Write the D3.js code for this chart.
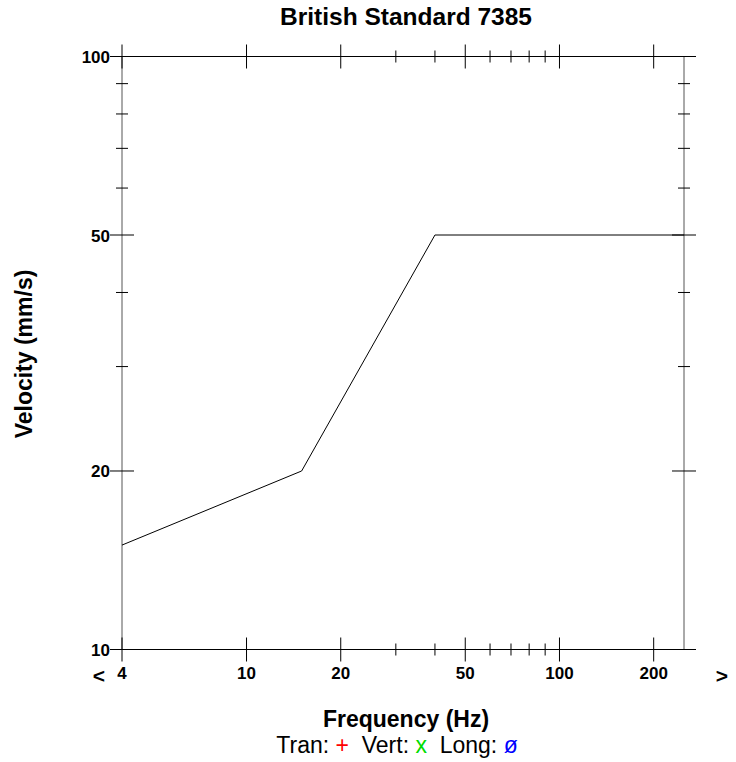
<!DOCTYPE html>
<html>
<head>
<meta charset="utf-8">
<script src="https://cdn.jsdelivr.net/npm/d3@7"></script>
<style>
  body { margin: 0; background: #fff; }
  svg text { font-family: "Liberation Sans", Arial, sans-serif; }
</style>
</head>
<body>
<svg id="chart" width="736" height="762"></svg>
<script>
// values
const xMajor = [4, 10, 20, 50, 100, 200];
const xMinor = [30, 40, 60, 70, 80, 90];
const yMajor = [10, 20, 50, 100];
const yMinor = [30, 40, 60, 70, 80, 90];
const freqDomain = [4, 250];
const velDomain = [10, 100];

// BS 7385 limit line
const limitFreq = [4, 15, 40, 250];
const limitVel = [15, 20, 50, 50];

const legendItems = [
    { label: "Tran: ", mark: "+", color: "#ff0000" },
    { label: "Vert: ", mark: "x", color: "#00dd00" },
    { label: "Long: ", mark: "ø", color: "#0000ff" }
];

const svg = d3.select('#chart');

const x = d3.scaleLog().domain(freqDomain).range([122, 684]);
const y = d3.scaleLog().domain(velDomain).range([649.5, 56.5]);

const plotLeft = x.range()[0], plotRight = x.range()[1];
const plotTop = y.range()[1], plotBottom = y.range()[0];

const frame = svg.append('g').attr('stroke', '#000').attr('stroke-width', 1);

// box
frame.append('line').attr('x1', plotLeft).attr('x2', plotRight).attr('y1', plotTop).attr('y2', plotTop);
frame.append('line').attr('x1', plotLeft).attr('x2', plotRight).attr('y1', plotBottom).attr('y2', plotBottom);
frame.append('line').attr('x1', plotLeft).attr('x2', plotLeft).attr('y1', plotTop).attr('y2', plotBottom).attr('stroke', '#555');
frame.append('line').attr('x1', plotRight).attr('x2', plotRight).attr('y1', plotTop).attr('y2', plotBottom).attr('stroke', '#555');

// ticks crossing the frame
function xTicks(vals, len) {
    [plotTop, plotBottom].forEach(yy => {
        frame.selectAll(null)
            .data(vals)
            .enter().append('line')
            .attr('x1', d => x(d)).attr('x2', d => x(d))
            .attr('y1', yy - len).attr('y2', yy + len);
    });
}
function yTicks(vals, len) {
    [plotLeft, plotRight].forEach(xx => {
        frame.selectAll(null)
            .data(vals)
            .enter().append('line')
            .attr('x1', xx - len).attr('x2', xx + len)
            .attr('y1', d => y(d)).attr('y2', d => y(d));
    });
}
xTicks(xMajor, 12);
xTicks(xMinor, 6);
yTicks(yMajor, 12);
yTicks(yMinor, 6);

// tick labels
svg.append('g').selectAll('text')
    .data(xMajor)
    .enter().append('text')
    .attr('x', d => x(d))
    .attr('y', 679)
    .attr('text-anchor', 'middle')
    .attr('font-size', 17)
    .attr('font-weight', 'bold')
    .text(d => d);

svg.append('g').selectAll('text')
    .data(yMajor)
    .enter().append('text')
    .attr('x', 110)
    .attr('y', d => y(d) + 6.5)
    .attr('text-anchor', 'end')
    .attr('font-size', 17)
    .attr('font-weight', 'bold')
    .text(d => d);

svg.append('text').attr('x', 99).attr('y', 683).attr('text-anchor', 'middle')
    .attr('font-size', 21).attr('font-weight', 'bold').text('<');
svg.append('text').attr('x', 722).attr('y', 683).attr('text-anchor', 'middle')
    .attr('font-size', 21).attr('font-weight', 'bold').text('>');

// limit line
const lineData = limitFreq.map((f, i) => ({ f: f, v: limitVel[i] }));
svg.append('path')
    .datum(lineData)
    .attr('fill', 'none')
    .attr('stroke', '#000')
    .attr('stroke-width', 1)
    .attr('d', d3.line().x(d => x(d.f)).y(d => y(d.v)));

// titles
svg.append('text').attr('x', 406).attr('y', 25).attr('text-anchor', 'middle')
    .attr('font-size', 24.5).attr('font-weight', 'bold').text('British Standard 7385');

svg.append('text').attr('x', 406).attr('y', 727).attr('text-anchor', 'middle')
    .attr('font-size', 23).attr('font-weight', 'bold').text('Frequency (Hz)');

svg.append('text')
    .attr('transform', 'translate(32, 354) rotate(-90)')
    .attr('text-anchor', 'middle')
    .attr('font-size', 23).attr('font-weight', 'bold').text('Velocity (mm/s)');

// legend
const legend = svg.append('text').attr('x', 397).attr('y', 753)
    .attr('text-anchor', 'middle').attr('font-size', 23);
legendItems.forEach((d, i) => {
    legend.append('tspan').attr('fill', '#000').text(d.label);
    legend.append('tspan').attr('fill', d.color).text(d.mark + (i < legendItems.length - 1 ? '\u00a0\u00a0' : ''));
});
</script>
</body>
</html>
